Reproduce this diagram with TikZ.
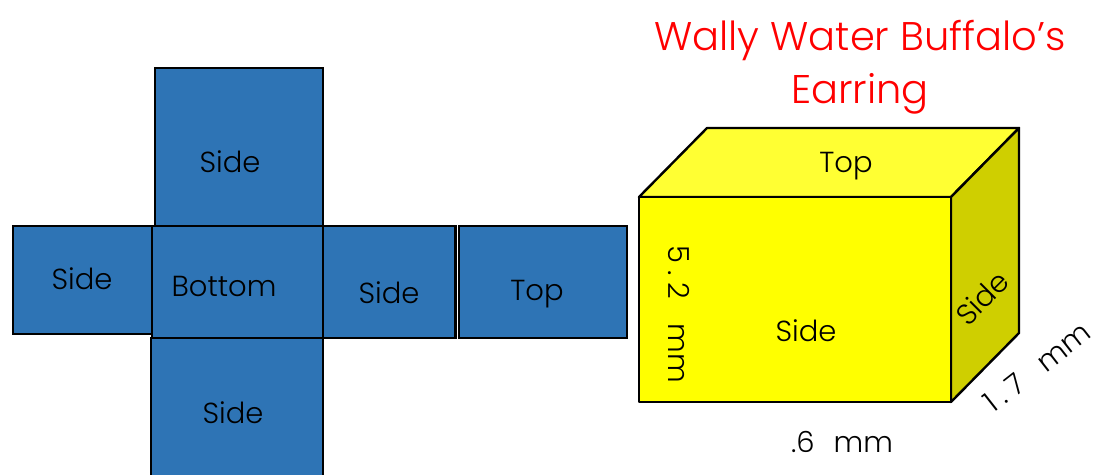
\documentclass[tikz,border=0pt]{standalone}
\usepackage{fontspec}
\setmainfont{Poppins Light}
\usepackage{tikz}
\usetikzlibrary{shapes,arrows}
\definecolor{netblue}{HTML}{2E74B5}
\definecolor{boxyellow}{HTML}{FFFF00}
\definecolor{boxtop}{HTML}{FFFF33}
\definecolor{boxside}{HTML}{CFCF00}

\begin{document}
\begin{tikzpicture}[x=1pt,y=-1pt,line width=2.4pt,line join=miter]
\tikzstyle{face}=[draw=black,fill=netblue,line width=2.4pt,inner sep=0pt]
\tikzstyle{solid face}=[draw=black,line width=2.4pt,line join=round]
\tikzstyle{lbl}=[text=black,font=\fontsize{29}{29}\selectfont,inner sep=0pt]
\tikzstyle{heading}=[text=red,font=\fontsize{40}{53}\selectfont,align=center,inner sep=0pt]
\clip (0,0) rectangle (1097,474);
% net
\node[face,minimum width=168pt,minimum height=158pt] (netup) at (239,147) {};
\node[face,minimum width=140pt,minimum height=108pt] (netleft) at (83,280) {};
\node[face,minimum width=133pt,minimum height=112pt] (netright) at (389,282) {};
\node[face,minimum width=168pt,minimum height=112pt] (nettop) at (543,282) {};
\node[face,minimum width=172pt,minimum height=150pt] (netdown) at (237,413) {};
\node[face,minimum width=171pt,minimum height=112pt] (netbottom) at (237.5,282) {};
\node[lbl] (a) at (230,162) {Side};
\node[lbl] (b) at (82,279) {Side};
\node[lbl] (c) at (224,286) {Bottom};
\node[lbl] (d) at (389,293) {Side};
\node[lbl] (e) at (537,294) {Top};
\node[lbl] (f) at (233,413) {Side};
% box
\coordinate (p) at (639,197);
\coordinate (q) at (951,197);
\coordinate (r) at (951,402);
\coordinate (s) at (639,402);
\coordinate (t) at (707,128);
\coordinate (u) at (1019,128);
\coordinate (v) at (1019,333);
\draw[solid face,fill=boxtop] (p)--(t)--(u)--(q)--cycle;
\draw[solid face,fill=boxside] (q)--(u)--(v)--(r)--cycle;
\draw[solid face,fill=boxyellow] (p)--(q)--(r)--(s)--cycle;
\node[lbl] (g) at (846,166) {Top};
\node[lbl] (h) at (806,331) {Side};
\node[lbl,rotate=45] (i) at (982,298) {Side};
\node[lbl,rotate=-90] (j) at (679,314) {5\hspace{.25em}.\hspace{.25em}2\hspace{.55em} mm};
\node[lbl,rotate=38] (k) at (1037,367) {1\hspace{.2em}.\hspace{.25em}7\hspace{.55em} mm};
\node[lbl] (l) at (842,442) {.6\hspace{.38em} mm};
\node[heading] (title) at (860,67) {Wally Water Buffalo's\\Earring};
\end{tikzpicture}
\end{document}
